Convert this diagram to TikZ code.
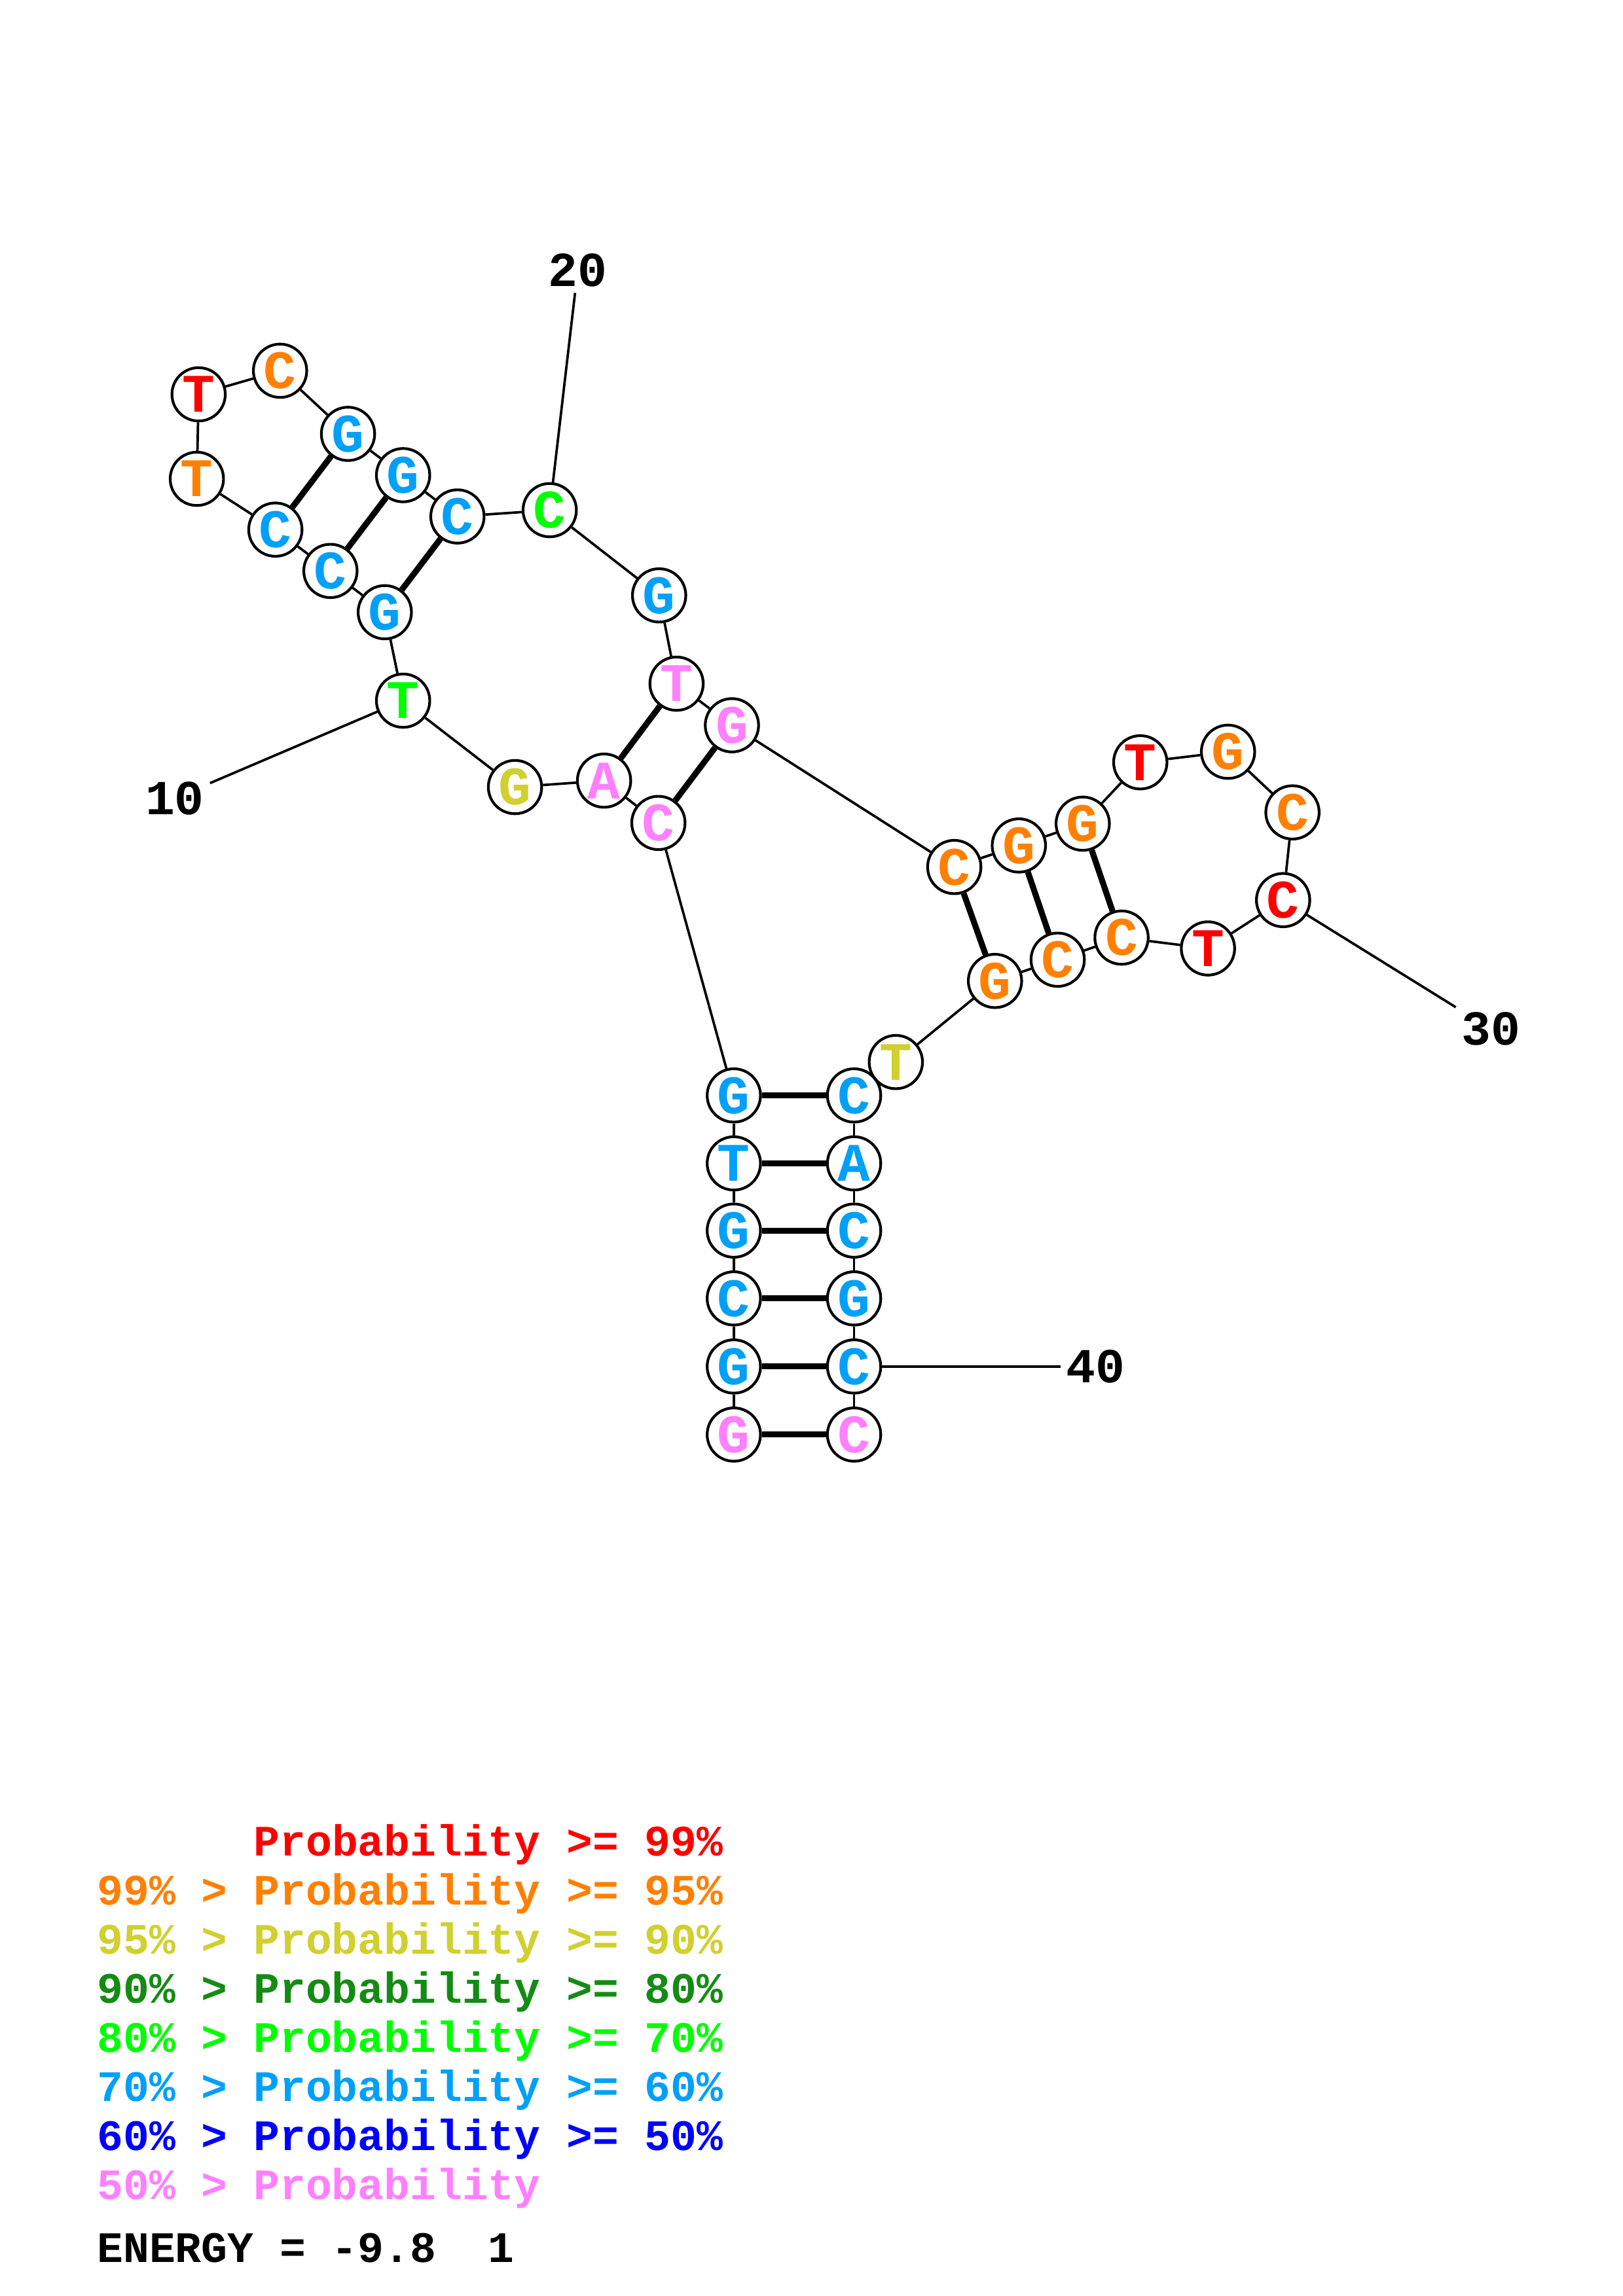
\documentclass[tikz,border=0pt]{standalone}
\usepackage{fontspec}
\newfontfamily\baseFont{Liberation Mono}

\begin{document}
\begin{tikzpicture}[x=0.018953cm, y=-0.018953cm,
    base/.style={circle, draw=borderColour, fill=white, line width=1pt,
        minimum size=0.69cm, inner sep=0pt,
        font=\baseFont\bfseries\fontsize{20}{20}\selectfont},
    chainLine/.style={draw=borderColour, line width=0.9pt},
    pairLine/.style={draw=borderColour, line width=2.2pt},
    numLabel/.style={inner sep=2pt, font=\baseFont\bfseries\fontsize{18}{18}\selectfont},
    keyLine/.style={anchor=base west, inner sep=0pt,
        font=\baseFont\bfseries\fontsize{16}{16}\selectfont}]
    \def\keyLeft{66}
    \def\keyStep{33.5}

    \definecolor{borderColour}{HTML}{000000}
    \definecolor{probRed}{HTML}{FF0000}
    \definecolor{probOrange}{HTML}{FF8000}
    \definecolor{probYellow}{HTML}{D0D030}
    \definecolor{probDkGreen}{HTML}{148C14}
    \definecolor{probGreen}{HTML}{00FF00}
    \definecolor{probLtBlue}{HTML}{00A0F8}
    \definecolor{probBlue}{HTML}{0000FF}
    \definecolor{probPink}{HTML}{FF80FF}

    % Page
    \fill[white] (0,0) rectangle (1108,1568);

    % Bases: number/x/y/letter/colour
    \foreach \n/\x/\y/\b/\c in {
        1/501/979.7/G/probPink, 2/501/933.2/G/probLtBlue, 3/501/886.7/C/probLtBlue,
        4/501/840.4/G/probLtBlue, 5/501/794.5/T/probLtBlue, 6/501/748.1/G/probLtBlue,
        7/449.5/562/C/probPink, 8/412.4/533.1/A/probPink, 9/351.6/537.5/G/probYellow,
        10/275.2/478.5/T/probGreen, 11/262.7/418.1/G/probLtBlue, 12/225.6/389.9/C/probLtBlue,
        13/188/361.7/C/probLtBlue, 14/134.4/327/T/probOrange, 15/135.6/269.3/T/probRed,
        16/191.2/253.2/C/probOrange, 17/237.6/296.3/G/probLtBlue, 18/275.2/324.5/G/probLtBlue,
        19/312.3/352.7/C/probLtBlue, 20/375.3/348.4/C/probGreen, 21/450/406.6/G/probLtBlue,
        22/461.9/466.9/T/probPink, 23/499.7/495.3/G/probPink, 24/651.5/592.1/C/probOrange,
        25/695.6/577.4/G/probOrange, 26/739.2/562.5/G/probOrange, 27/778.5/520.6/T/probRed,
        28/838.4/513.4/G/probOrange, 29/882.4/554.8/C/probOrange, 30/876/614.7/C/probRed,
        31/824.7/647.7/T/probRed, 32/765.7/640.3/C/probOrange, 33/722.1/655.4/C/probOrange,
        34/679.3/669.9/G/probOrange, 35/611.6/725.3/T/probYellow, 36/583.1/748.1/C/probLtBlue,
        37/583.1/794.5/A/probLtBlue, 38/583.1/840.4/C/probLtBlue, 39/583.1/886.7/G/probLtBlue,
        40/583.1/933.2/C/probLtBlue, 41/583.1/979.7/C/probPink}
        \node[base, text=\c] (n\n) at (\x,\y) {\b};

    % Backbone
    \foreach \i [count=\j from 2] in {1,...,40}
        \draw[chainLine] (n\i) -- (n\j);

    % Pairs
    \foreach \a/\b in {1/41, 2/40, 3/39, 4/38, 5/37, 6/36, 7/23, 8/22,
        11/19, 12/18, 13/17, 24/34, 25/33, 26/32}
        \draw[pairLine] (n\a) -- (n\b);

    % Numbers
    \node[numLabel] (lab10) at (119.3,545.1) {10};
    \node[numLabel] (lab20) at (394.4,184.6) {20};
    \node[numLabel] (lab30) at (1018,702.8) {30};
    \node[numLabel] (lab40) at (748,933.2) {40};
    \foreach \k in {10,20,30,40}
        \draw[chainLine] (lab\k) -- (n\k);

    % Key
    \node[keyLine, text=probRed] (key0) at (\keyLeft,1267.6) {\hphantom{99\% >} Probability >= 99\%};
    \foreach \t/\c [count=\k] in {
        99\% > Probability >= 95\%/probOrange,
        95\% > Probability >= 90\%/probYellow,
        90\% > Probability >= 80\%/probDkGreen,
        80\% > Probability >= 70\%/probGreen,
        70\% > Probability >= 60\%/probLtBlue,
        60\% > Probability >= 50\%/probBlue,
        50\% > Probability/probPink}
        \node[keyLine, text=\c] (key\k) at (\keyLeft,1267.6+\k*\keyStep) {\t};
    \node[keyLine] (energy) at (\keyLeft,1545.1) {ENERGY = -9.8\ \ 1};

\end{tikzpicture}
\end{document}
